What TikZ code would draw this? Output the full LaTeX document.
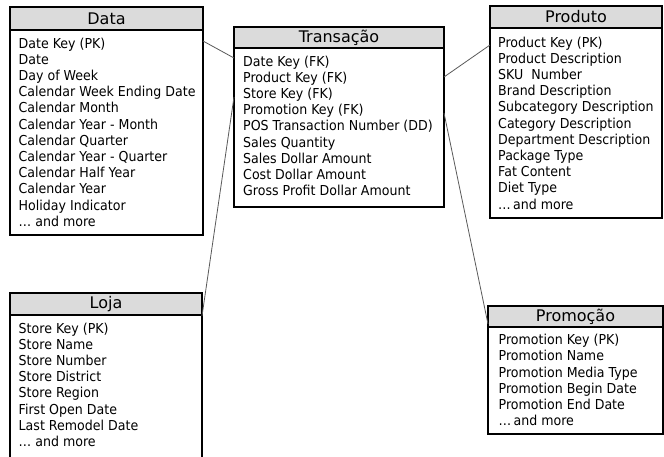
\documentclass[tikz,border=0pt]{standalone}
\usepackage{fontspec}
\setmainfont{DejaVu Sans}
\newfontfamily\rowfont{DejaVu Sans}[FakeStretch=0.92]
\usepackage{tikz}
\usetikzlibrary{positioning}
\definecolor{hdrgray}{gray}{0.86}
\definecolor{linkgray}{gray}{0.35}

\begin{document}
\begin{tikzpicture}[x=1pt,y=-1pt,
  hdr/.style={draw=black,line width=1.6pt,fill=hdrgray,inner sep=0pt,outer sep=0pt,
    anchor=north west,font=\fontsize{16}{18}\selectfont},
  tbody/.style={draw=black,line width=1.6pt,fill=white,inner sep=0pt,outer sep=0pt},
  rows/.style={align=left,inner sep=0pt,font=\rowfont\fontsize{13.7}{16.2}\selectfont},
  link/.style={draw=linkgray,line width=0.8pt}]

\useasboundingbox (0,0) rectangle (664,456);

% Data
\node[hdr,minimum width=193pt,minimum height=23pt] (data) at (10,7) {Data};
\node[tbody,below=0pt of data,minimum width=193pt,minimum height=205pt] (databody) {};
\node[rows,below right=7.5pt and 8.5pt of databody.north west] (datarows) {Date Key (PK)\\
  Date\\ Day of Week\\ Calendar Week Ending Date\\ Calendar Month\\
  Calendar Year - Month\\ Calendar Quarter\\ Calendar Year - Quarter\\
  Calendar Half Year\\ Calendar Year\\ Holiday Indicator\\ \dots\ and more};

% Transacao
\node[hdr,minimum width=210pt,minimum height=21pt] (trans) at (234,27) {Transação};
\node[tbody,below=0pt of trans,minimum width=210pt,minimum height=159pt] (transbody) {};
\node[rows,below right=7.5pt and 9pt of transbody.north west] (transrows) {Date Key (FK)\\
  Product Key (FK)\\ Store Key (FK)\\ Promotion Key (FK)\\
  POS Transaction Number (DD)\\ Sales Quantity\\ Sales Dollar Amount\\
  Cost Dollar Amount\\ Gross Profit Dollar Amount};

% Produto
\node[hdr,minimum width=172pt,minimum height=22pt] (prod) at (490,6) {Produto};
\node[tbody,below=0pt of prod,minimum width=172pt,minimum height=190pt] (prodbody) {};
\node[rows,below right=8.5pt and 8pt of prodbody.north west] (prodrows) {Product Key (PK)\\
  Product Description\\ SKU\ \ Number\\ Brand Description\\
  Subcategory Description\\ Category Description\\ Department Description\\
  Package Type\\ Fat Content\\ Diet Type\\ \dots\,and more};

% Loja
\node[hdr,minimum width=192pt,minimum height=22pt] (loja) at (10,293) {Loja};
\node[tbody,below=0pt of loja,minimum width=192pt,minimum height=160pt] (lojabody) {};
\node[rows,below right=7.5pt and 8.5pt of lojabody.north west] (lojarows) {Store Key (PK)\\
  Store Name\\ Store Number\\ Store District\\ Store Region\\
  First Open Date\\ Last Remodel Date\\ \dots\ and more};

% Promocao
\node[hdr,minimum width=175pt,minimum height=21pt] (promo) at (488,306) {Promoção};
\node[tbody,below=0pt of promo,minimum width=175pt,minimum height=107pt] (promobody) {};
\node[rows,below right=7pt and 10.5pt of promobody.north west] (promorows) {Promotion Key (PK)\\
  Promotion Name\\ Promotion Media Type\\ Promotion Begin Date\\
  Promotion End Date\\ \dots\,and more};

% ligacoes
\draw[link] ([yshift=-11pt]databody.north east) -- ([yshift=-10pt]transbody.north west);
\draw[link] ([yshift=-29pt]transbody.north east) -- ([yshift=-17pt]prodbody.north west);
\draw[link] ([yshift=-49pt]transbody.north west) -- ([yshift=-1pt]lojabody.north east);
\draw[link] ([yshift=-65pt]transbody.north east) -- ([yshift=3pt]promobody.north west);

\end{tikzpicture}
\end{document}
